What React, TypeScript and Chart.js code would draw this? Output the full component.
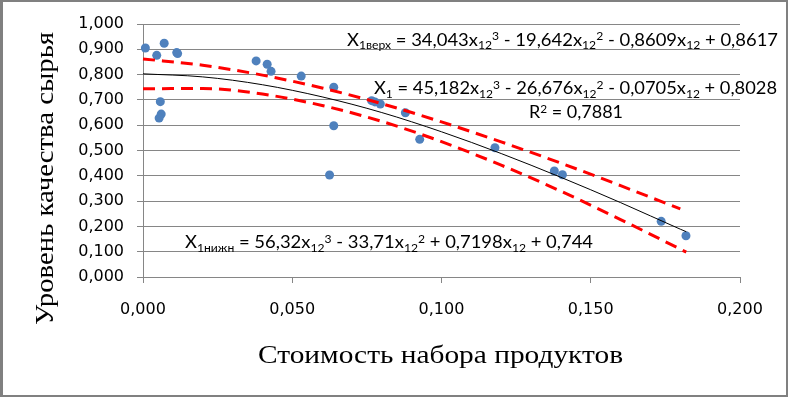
import React, { useEffect, useRef } from "react";
import { Chart, registerables } from "chart.js";

Chart.register(...registerables);

// Observed points: cost of product set (x) vs raw material quality level (y)
const pointsX = [0.0008, 0.0046, 0.0071, 0.0113, 0.0116, 0.0058, 0.0061, 0.0054, 0.0379, 0.0416, 0.0429, 0.053, 0.0639, 0.0639, 0.0625, 0.0766, 0.0777, 0.0795, 0.0879, 0.0927, 0.1179, 0.1378, 0.1405, 0.1736, 0.1819];
const pointsY = [0.905, 0.876, 0.924, 0.887, 0.883, 0.693, 0.644, 0.628, 0.854, 0.841, 0.813, 0.794, 0.75, 0.598, 0.403, 0.697, 0.692, 0.684, 0.649, 0.544, 0.511, 0.419, 0.404, 0.22, 0.163];

// Trend line X1 (black)
const fitX = [0, 0.02, 0.04, 0.06, 0.08, 0.1, 0.12, 0.14, 0.16, 0.18, 0.182];
const fitY = [0.803, 0.791, 0.76, 0.712, 0.65, 0.574, 0.488, 0.394, 0.294, 0.189, 0.179];

// Upper bound X1верх (red dashed)
const upperX = [0, 0.02, 0.04, 0.06, 0.08, 0.1, 0.12, 0.14, 0.16, 0.18];
const upperY = [0.862, 0.837, 0.798, 0.747, 0.685, 0.613, 0.534, 0.45, 0.361, 0.269];

// Lower bound X1нижн (red dashed)
const lowerX = [0, 0.02, 0.04, 0.06, 0.08, 0.1, 0.12, 0.14, 0.16, 0.18, 0.182];
const lowerY = [0.744, 0.745, 0.723, 0.678, 0.615, 0.535, 0.442, 0.339, 0.227, 0.11, 0.098];

const xTitle = "Стоимость набора продуктов";
const yTitle = "Уровень качества сырья";
const eqUpper = "X_{1верх} = 34,043x_{12}^{3} - 19,642x_{12}^{2} - 0,8609x_{12} + 0,8617";
const eqFit = "X_{1} = 45,182x_{12}^{3} - 26,676x_{12}^{2} - 0,0705x_{12} + 0,8028";
const eqR2 = "R^{2} = 0,7881";
const eqLower = "X_{1нижн} = 56,32x_{12}^{3} - 33,71x_{12}^{2} + 0,7198x_{12} + 0,744";

const fmt = (v: number) => Number(v).toFixed(3).replace(".", ",");

type Seg = { t: string; k: "n" | "sub" | "sup" };
function parseRich(s: string): Seg[] {
  const segs: Seg[] = [];
  let buf = "";
  let i = 0;
  while (i < s.length) {
    if ((s[i] === "_" || s[i] === "^") && s[i + 1] === "{") {
      if (buf) { segs.push({ t: buf, k: "n" }); buf = ""; }
      const end = s.indexOf("}", i);
      segs.push({ t: s.slice(i + 2, end), k: s[i] === "_" ? "sub" : "sup" });
      i = end + 1;
    } else {
      buf += s[i];
      i++;
    }
  }
  if (buf) segs.push({ t: buf, k: "n" });
  return segs;
}

function drawRich(ctx: CanvasRenderingContext2D, s: string, left: number, baseline: number, right: number, size: number, family: string) {
  const segs = parseRich(s);
  const small = size * 0.66;
  const fontOf = (k: string) => `${k === "n" ? size : small}px ${family}`;
  let w = 0;
  for (const sg of segs) { ctx.font = fontOf(sg.k); w += ctx.measureText(sg.t).width; }
  const sx = (right - left) / w;
  ctx.save();
  ctx.translate(left, baseline);
  ctx.scale(sx, 1);
  ctx.fillStyle = "#000";
  ctx.textAlign = "left";
  ctx.textBaseline = "alphabetic";
  let x = 0;
  for (const sg of segs) {
    ctx.font = fontOf(sg.k);
    const dy = sg.k === "sub" ? size * 0.2 : sg.k === "sup" ? -size * 0.3 : 0;
    ctx.fillText(sg.t, x, dy);
    x += ctx.measureText(sg.t).width;
  }
  ctx.restore();
}

function drawFitted(ctx: CanvasRenderingContext2D, s: string, cx: number, baseline: number, width: number, font: string, rotate: boolean) {
  ctx.save();
  ctx.font = font;
  const w = ctx.measureText(s).width;
  ctx.translate(rotate ? baseline : cx, rotate ? cx : baseline);
  if (rotate) ctx.rotate(-Math.PI / 2);
  ctx.scale(width / w, 1);
  ctx.fillStyle = "#000";
  ctx.textAlign = "center";
  ctx.textBaseline = "alphabetic";
  ctx.fillText(s, 0, 0);
  ctx.restore();
}

const decorPlugin = {
  id: "decor",
  afterDraw(chart: any) {
    const ctx = chart.ctx as CanvasRenderingContext2D;
    const fam = "Lato, 'Open Sans', sans-serif";
    drawRich(ctx, eqUpper, 347, 45.7, 778, 18, fam);
    drawRich(ctx, eqFit, 374, 94.3, 777, 18, fam);
    drawRich(ctx, eqR2, 529, 118.3, 623, 18, fam);
    drawRich(ctx, eqLower, 185, 248.3, 593, 18, fam);
    const serif = "26px 'Liberation Serif', 'Times New Roman', serif";
    drawFitted(ctx, xTitle, 440.5, 363.3, 365, serif, false);
    drawFitted(ctx, yTitle, 178.5, 52.5, 293, serif, true);
    ctx.save();
    ctx.strokeStyle = "#808080";
    ctx.lineWidth = 2;
    ctx.strokeRect(1, 1, 786, 395);
    ctx.fillStyle = "#808080";
    ctx.fillRect(0, 0, 3, 397);
    ctx.restore();
  },
};

export default function App() {
  const ref = useRef<HTMLCanvasElement | null>(null);
  useEffect(() => {
    if (!ref.current) return;
    const toPts = (xs: number[], ys: number[]) => xs.map((x, i) => ({ x, y: ys[i] }));
    const chart = new Chart(ref.current, {
      type: "scatter",
      data: {
        datasets: [
          {
            label: "X1верх",
            data: toPts(upperX, upperY),
            showLine: true,
            borderColor: "#ff0000",
            borderWidth: 3,
            borderDash: [12, 7],
            pointRadius: 0,
            cubicInterpolationMode: "monotone",
            order: 1,
            clip: false,
          } as any,
          {
            label: "X1нижн",
            data: toPts(lowerX, lowerY),
            showLine: true,
            borderColor: "#ff0000",
            borderWidth: 3,
            borderDash: [12, 7],
            pointRadius: 0,
            cubicInterpolationMode: "monotone",
            order: 1,
            clip: false,
          } as any,
          {
            label: "X1",
            data: toPts(fitX, fitY),
            showLine: true,
            borderColor: "#000000",
            borderWidth: 1,
            pointRadius: 0,
            cubicInterpolationMode: "monotone",
            order: 1,
            clip: false,
          } as any,
          {
            label: "Данные",
            data: toPts(pointsX, pointsY),
            backgroundColor: "#4F81BD",
            borderColor: "#4F81BD",
            pointRadius: 4.5,
            borderWidth: 0,
            order: 3,
            clip: false,
          } as any,
        ],
      },
      options: {
        responsive: false,
        animation: false,
        layout: { padding: { left: 0, top: 24, right: 48, bottom: 0 } },
        plugins: { legend: { display: false }, tooltip: { enabled: false } },
        scales: {
          x: {
            type: "linear",
            min: 0,
            max: 0.2,
            ticks: {
              stepSize: 0.05,
              callback: (v: any) => fmt(v),
              color: "#000",
              font: { family: "'DejaVu Sans', sans-serif", size: 16 },
              padding: 17,
              maxRotation: 0,
            },
            grid: { drawOnChartArea: false, drawTicks: true, tickLength: 6, color: "#868686" },
            border: { color: "#868686" },
            afterFit: (s: any) => { s.height = 120; },
          },
          y: {
            min: 0,
            max: 1,
            ticks: {
              stepSize: 0.1,
              callback: (v: any) => fmt(v),
              color: "#000",
              font: { family: "'DejaVu Sans', sans-serif", size: 16 },
              padding: 13,
            },
            grid: { color: "#868686", tickLength: 6 },
            border: { color: "#868686" },
            afterFit: (s: any) => { s.width = 143; },
          },
        },
      } as any,
      plugins: [decorPlugin],
    });
    return () => chart.destroy();
  }, []);
  return (
    <div style={{ position: "fixed", left: 0, top: 0, width: 788, height: 397, background: "#fff" }}>
      <canvas ref={ref} width={788} height={397} style={{ display: "block" }} />
    </div>
  );
}
